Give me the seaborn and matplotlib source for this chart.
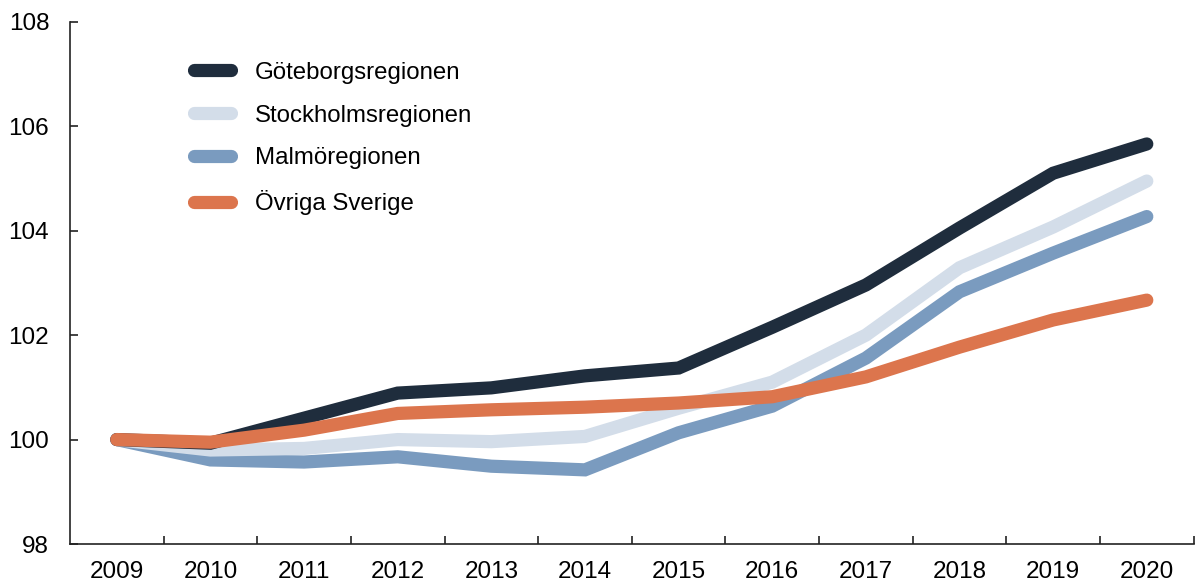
import numpy as np
import pandas as pd
import matplotlib
matplotlib.use('Agg')
import matplotlib.pyplot as plt
import seaborn as sns
from matplotlib.ticker import MultipleLocator, FixedLocator

# data
years = list(range(2009, 2021))
goteborg = [100.0, 99.93, 100.41, 100.89, 100.99, 101.22, 101.37, 102.15, 102.96, 104.05, 105.1, 105.66]
stockholm = [100.0, 99.8, 99.83, 100.0, 99.96, 100.06, 100.6, 101.1, 102.0, 103.29, 104.07, 104.95]
malmo = [100.0, 99.61, 99.57, 99.67, 99.49, 99.42, 100.13, 100.64, 101.56, 102.83, 103.57, 104.27]
ovriga = [100.0, 99.95, 100.18, 100.5, 100.57, 100.62, 100.7, 100.82, 101.2, 101.77, 102.29, 102.67]

names = ['Göteborgsregionen', 'Stockholmsregionen', 'Malmöregionen', 'Övriga Sverige']
colors = ['#1f2d3d', '#d3dde9', '#7a9bbf', '#dc754d']
zorders = [3, 2, 1, 4]

df = pd.DataFrame({'year': years * 4,
                   'value': goteborg + stockholm + malmo + ovriga,
                   'region': [n for n in names for _ in years]})

sns.set_style('white')
plt.rcParams['font.family'] = ['Liberation Sans', 'DejaVu Sans']
plt.rcParams['text.color'] = 'black'
plt.rcParams['xtick.color'] = 'black'
plt.rcParams['ytick.color'] = 'black'

fig = plt.figure(figsize=(11.96, 5.88), dpi=100)
ax = fig.add_axes([0.0585, 0.0748, 0.9395, 0.8882])

handles = {}
for name, col, z in zip(names, colors, zorders):
    sns.lineplot(data=df[df['region'] == name], x='year', y='value', color=col,
                 linewidth=9.5, ax=ax, zorder=z, legend=False)
    line = ax.lines[-1]
    line.set_solid_capstyle('round')
    line.set_solid_joinstyle('miter')
    handles[name] = line

ax.set_xlim(2008.5, 2020.5)
ax.set_ylim(98, 108)
ax.yaxis.set_major_locator(MultipleLocator(2))
ax.xaxis.set_major_locator(FixedLocator(years))
ax.xaxis.set_minor_locator(FixedLocator([y + 0.5 for y in years]))
ax.set_xlabel('')
ax.set_ylabel('')

for s in ['top', 'right']:
    ax.spines[s].set_visible(False)
for s in ['left', 'bottom']:
    ax.spines[s].set_color('#222222')
    ax.spines[s].set_linewidth(1.2)

ax.tick_params(axis='x', which='major', bottom=True, length=0, labelsize=17.5, pad=12)
ax.tick_params(axis='x', which='minor', bottom=True, direction='in', length=6, width=1.2,
               color='#222222')
ax.tick_params(axis='y', which='major', left=True, direction='in', length=6, width=1.2,
               color='#222222', labelsize=17.5, pad=15)

leg = ax.legend([handles[n] for n in names], names, loc='upper left',
                bbox_to_anchor=(0.091, 0.965), frameon=False, fontsize=17.3,
                handlelength=1.55, handletextpad=1.0, labelspacing=0.87)

fig.savefig('out.png', dpi=100)
